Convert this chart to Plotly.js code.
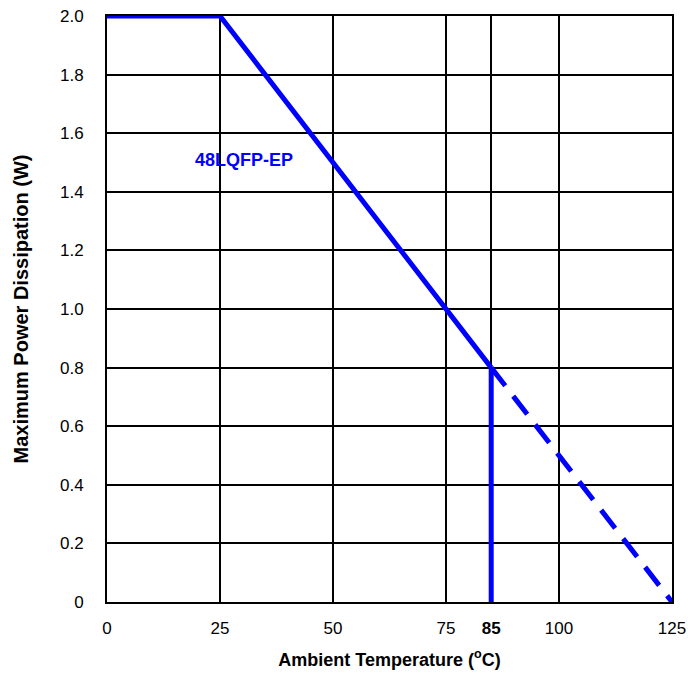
<!DOCTYPE html>
<html>
<head>
<meta charset="utf-8">
<script src="https://cdn.plot.ly/plotly-3.0.1.min.js"></script>
<style>html,body{margin:0;padding:0;background:#fff;}#chart{width:688px;height:674px;}</style>
</head>
<body>
<div id="chart"></div>
<script>
// Derating curve (solid part)
const solidTemp = [0, 25, 85];
const solidPower = [2.0, 2.0, 0.8];
// Extrapolated (dashed) part
const dashTemp = [85, 125];
const dashPower = [0.8, 0];
// Vertical marker at 85 °C
const markTemp = [85, 85];
const markPower = [0, 0.8];

const xTickVals = [0, 25, 50, 75, 85, 100, 125];
const xTickText = ["0", "25", "50", "75", "<b>85</b>", "100", "125"];
const yTickVals = [0, 0.2, 0.4, 0.6, 0.8, 1.0, 1.2, 1.4, 1.6, 1.8, 2.0];
const yTickText = ["0", "0.2", "0.4", "0.6", "0.8", "1.0", "1.2", "1.4", "1.6", "1.8", "2.0"];
const seriesLabel = "48LQFP-EP";
const labelPos = [30.3, 1.51];

const blue = "#0000ff";
const traces = [
  {x: solidTemp, y: solidPower, mode: "lines", line: {color: blue, width: 5}, hoverinfo: "skip"},
  {x: dashTemp, y: dashPower, mode: "lines", line: {color: blue, width: 5, dash: "23px,13px"}, hoverinfo: "skip"},
  {x: markTemp, y: markPower, mode: "lines", line: {color: blue, width: 5}, hoverinfo: "skip"}
];

const layout = {
  width: 688, height: 674,
  margin: {l: 107, r: 16, t: 16, b: 72},
  paper_bgcolor: "#fff", plot_bgcolor: "#fff",
  showlegend: false,
  font: {family: "Liberation Sans, Arial, sans-serif", size: 17, color: "#000"},
  xaxis: {
    range: [0, 125], tickmode: "array", tickvals: xTickVals, ticktext: xTickText,
    showgrid: true, gridcolor: "#000", gridwidth: 2,
    showline: true, linecolor: "#000", linewidth: 2, mirror: true,
    zeroline: false, ticks: "outside", ticklen: 10, tickcolor: "rgba(0,0,0,0)",
    tickfont: {size: 17},
    title: {text: "<b>Ambient Temperature (<sup>o</sup>C)</b>", font: {size: 18}, standoff: 16}
  },
  yaxis: {
    range: [0, 2.0], tickmode: "array", tickvals: yTickVals, ticktext: yTickText,
    showgrid: true, gridcolor: "#000", gridwidth: 2,
    showline: true, linecolor: "#000", linewidth: 2, mirror: true,
    zeroline: false, ticks: "outside", ticklen: 18, tickcolor: "rgba(0,0,0,0)",
    tickfont: {size: 17},
    title: {text: "<b>Maximum Power Dissipation (W)</b>", font: {size: 20}, standoff: 26}
  },
  annotations: [
    {x: labelPos[0], y: labelPos[1], text: "<b>" + seriesLabel + "</b>", showarrow: false,
     font: {size: 18, color: blue}}
  ]
};

Plotly.newPlot("chart", traces, layout, {staticPlot: true, displayModeBar: false});
</script>
</body>
</html>
